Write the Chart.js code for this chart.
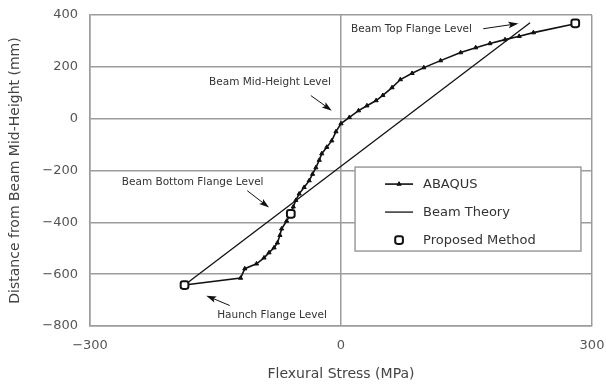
<!DOCTYPE html>
<html>
<head>
<meta charset="utf-8">
<script src="https://cdn.jsdelivr.net/npm/chart.js@4"></script>
<style>
  html, body { margin: 0; padding: 0; background: #ffffff; }
  #wrap { width: 606px; height: 385px; position: relative; }
</style>
</head>
<body>
<div id="wrap"><canvas id="c"></canvas></div>
<script>
// Flexural stress distribution over the beam depth
const abaqusStress = [-187, -120, -115, -101, -92, -86, -80, -76, -73, -71, -65, -60, -57, -54, -50, -44, -38, -34, -30, -26, -23, -17, -11, -6, 0, 10, 21, 31, 42, 50, 61, 71, 85, 99, 119, 143, 161, 178, 196, 213, 230, 280];
const abaqusDepth  = [-642, -615, -579, -560, -537, -517, -498, -479, -450, -425, -395, -367, -340, -315, -290, -265, -239, -214, -189, -160, -135, -110, -85, -50, -19, 5, 31, 50, 70, 90, 120, 151, 175, 197, 224, 255, 274, 290, 305, 318, 332, 366];

const beamTheoryStress = [-187, 226];
const beamTheoryDepth  = [-642, 370];

const proposedStress = [-187, -60, 280];
const proposedDepth  = [-642, -367, 368];

const seriesNames = ['ABAQUS', 'Beam Theory', 'Proposed Method'];
const xTickValues = [-300, 0, 300];
const yTickValues = [400, 200, 0, -200, -400, -600, -800];

const xAxisTitle = 'Flexural Stress (MPa)';
const yAxisTitle = 'Distance from Beam Mid-Height (mm)';

// Callout labels with arrows (text anchor and arrow tail/head in data units)
const callouts = [
  { text: 'Beam Top Flange Level',   tx: 12,   ty: 344,  align: 'left',  from: [170, 347],   to: [212, 367] },
  { text: 'Beam Mid-Height Level',   tx: -12,  ty: 139,  align: 'right', from: [-36, 89],    to: [-11, 31] },
  { text: 'Beam Bottom Flange Level', tx: -262, ty: -247, align: 'left', from: [-112, -278], to: [-86, -343] },
  { text: 'Haunch Flange Level',     tx: -148, ty: -760, align: 'left',  from: [-133, -721], to: [-161, -683] }
];

const toPoints = (xs, ys) => xs.map((x, i) => ({ x: x, y: ys[i] }));
const fmt = v => (v < 0 ? '\u2212' + Math.abs(v) : String(v));

const INK = '#111111';
const GRID = '#9c9c9c';
const FONT = "'DejaVu Sans', 'Liberation Sans', sans-serif";

function drawArrow(ctx, x1, y1, x2, y2) {
  const ang = Math.atan2(y2 - y1, x2 - x1);
  const headLen = 10, headW = 3.2;
  ctx.save();
  ctx.strokeStyle = INK;
  ctx.fillStyle = INK;
  ctx.lineWidth = 1;
  ctx.beginPath();
  ctx.moveTo(x1, y1);
  ctx.lineTo(x2 - Math.cos(ang) * headLen * 0.6, y2 - Math.sin(ang) * headLen * 0.6);
  ctx.stroke();
  ctx.translate(x2, y2);
  ctx.rotate(ang);
  ctx.beginPath();
  ctx.moveTo(0, 0);
  ctx.lineTo(-headLen, -headW);
  ctx.lineTo(-headLen * 0.8, 0);
  ctx.lineTo(-headLen, headW);
  ctx.closePath();
  ctx.fill();
  ctx.restore();
}

const overlayPlugin = {
  id: 'overlay',
  afterDatasetsDraw(chart) {
    const { ctx, chartArea: ca, scales } = chart;
    const xs = scales.x, ys = scales.y;

    // callouts
    ctx.save();
    ctx.font = '10.5px ' + FONT;
    ctx.fillStyle = '#333333';
    ctx.textBaseline = 'middle';
    callouts.forEach(c => {
      ctx.textAlign = c.align;
      ctx.fillText(c.text, xs.getPixelForValue(c.tx), ys.getPixelForValue(c.ty));
      drawArrow(ctx,
        xs.getPixelForValue(c.from[0]), ys.getPixelForValue(c.from[1]),
        xs.getPixelForValue(c.to[0]), ys.getPixelForValue(c.to[1]));
    });
    ctx.restore();

    // legend box inside the plot
    const w = ca.right - ca.left, h = ca.bottom - ca.top;
    const bx = ca.left + w * 0.528, by = ca.top + h * 0.489;
    const bw = w * 0.45, bh = h * 0.27;
    ctx.save();
    ctx.fillStyle = '#ffffff';
    ctx.fillRect(bx, by, bw, bh);
    ctx.strokeStyle = GRID;
    ctx.lineWidth = 1.5;
    ctx.strokeRect(bx, by, bw, bh);
    ctx.font = '13px ' + FONT;
    ctx.textAlign = 'left';
    ctx.textBaseline = 'middle';
    chart.data.datasets.forEach((ds, i) => {
      const rowY = by + 17 + i * 28;
      const sx0 = bx + 30, sx1 = bx + 58, mx = (sx0 + sx1) / 2;
      if (ds.showLine) {
        ctx.strokeStyle = INK;
        ctx.lineWidth = ds.borderWidth;
        ctx.beginPath();
        ctx.moveTo(sx0, rowY);
        ctx.lineTo(sx1, rowY);
        ctx.stroke();
      }
      if (ds.pointRadius > 0) {
        ctx.fillStyle = ds.pointBackgroundColor;
        ctx.strokeStyle = INK;
        ctx.lineWidth = ds.pointBorderWidth;
        Chart.helpers.drawPoint(ctx, {
          pointStyle: ds.pointStyle,
          radius: ds.pointRadius,
          borderWidth: ds.pointBorderWidth,
          rotation: 0
        }, mx, rowY);
      }
      ctx.fillStyle = '#333333';
      ctx.fillText(ds.label, bx + 68, rowY + 1);
    });
    ctx.restore();
  }
};

// keep the plot frame fixed; tick labels may overhang into the page margins
function fixScale(size) {
  return s => {
    if (s.isHorizontal()) { s.height = size; } else { s.width = size; }
    s.paddingLeft = 0; s.paddingRight = 0; s.paddingTop = 0; s.paddingBottom = 0;
  };
}

new Chart(document.getElementById('c'), {
  type: 'scatter',
  data: {
    datasets: [
      {
        label: seriesNames[0],
        data: toPoints(abaqusStress, abaqusDepth),
        showLine: true,
        borderColor: INK,
        borderWidth: 1.6,
        pointStyle: 'triangle',
        pointRadius: 2.4,
        pointBorderWidth: 1,
        pointBackgroundColor: INK,
        pointBorderColor: INK,
        order: 2
      },
      {
        label: seriesNames[1],
        data: toPoints(beamTheoryStress, beamTheoryDepth),
        showLine: true,
        borderColor: INK,
        borderWidth: 1.3,
        pointRadius: 0,
        pointBorderWidth: 0,
        pointBackgroundColor: INK,
        order: 3
      },
      {
        label: seriesNames[2],
        data: toPoints(proposedStress, proposedDepth),
        showLine: false,
        pointStyle: 'rectRounded',
        pointRadius: 4.5,
        pointBorderWidth: 2,
        pointBackgroundColor: '#ffffff',
        pointBorderColor: INK,
        order: 1
      }
    ]
  },
  options: {
    responsive: true,
    maintainAspectRatio: false,
    animation: false,
    devicePixelRatio: 1,
    layout: { padding: { top: 15, right: 14, left: 0, bottom: 0 } },
    plugins: {
      legend: { display: false },
      tooltip: { enabled: false }
    },
    scales: {
      x: {
        type: 'linear',
        min: xTickValues[0],
        max: xTickValues[xTickValues.length - 1],
        afterBuildTicks: s => { s.ticks = xTickValues.map(v => ({ value: v })); },
        afterFit: fixScale(59),
        grid: { color: GRID, lineWidth: 1.5, drawTicks: false },
        border: { color: GRID, width: 1.5 },
        ticks: {
          padding: 12,
          color: '#555555',
          font: { family: FONT, size: 13 },
          callback: v => fmt(v)
        },
        title: {
          display: true,
          text: xAxisTitle,
          color: '#444444',
          font: { family: FONT, size: 14 },
          padding: { top: 4, bottom: 2 }
        }
      },
      y: {
        type: 'linear',
        min: Math.min(...yTickValues),
        max: Math.max(...yTickValues),
        afterBuildTicks: s => { s.ticks = yTickValues.slice().reverse().map(v => ({ value: v })); },
        afterFit: fixScale(90),
        grid: { color: GRID, lineWidth: 1.5, drawTicks: false },
        border: { color: GRID, width: 1.5 },
        ticks: {
          padding: 12,
          color: '#555555',
          font: { family: FONT, size: 13 },
          callback: v => fmt(v)
        },
        title: {
          display: true,
          text: yAxisTitle,
          color: '#444444',
          font: { family: FONT, size: 14 },
          padding: { top: 7, bottom: 4 }
        }
      }
    }
  },
  plugins: [overlayPlugin]
});
</script>
</body>
</html>
